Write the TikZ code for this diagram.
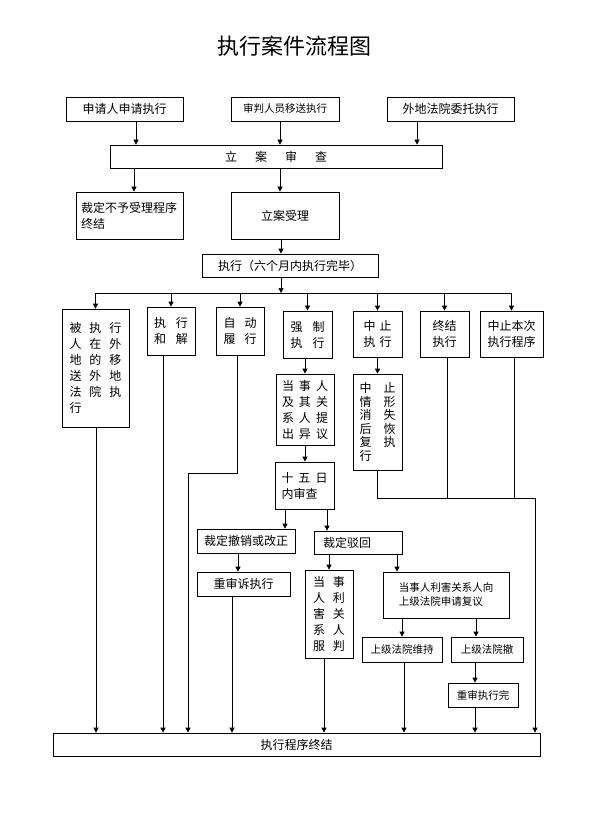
\documentclass[tikz,border=0pt]{standalone}
\usepackage{fontspec}
\setmainfont{Noto Sans CJK SC}
\usepackage{tikz}
\usetikzlibrary{arrows.meta}
\definecolor{ink}{HTML}{000000}
\newcommand{\cgap}[1][6pt]{\hspace{#1}}
\tikzset{
  box/.style={draw=ink,line width=0.7pt,fill=white,inner sep=2pt,align=center,text=ink,font=\fontsize{12}{16}\selectfont},
  tight/.style={font=\fontsize{10.5}{14}\selectfont},
  arr/.style={-{Triangle[length=5pt,width=5pt]},line width=0.7pt,color=ink},
  conn/.style={line width=0.7pt,color=ink},
}

\begin{document}
\begin{tikzpicture}[x=1pt,y=-1pt]
  \useasboundingbox (0,0) rectangle (595,834);
  \node[font=\fontsize{22}{26}\selectfont] (title) at (294,46) {执行案件流程图};

  % intake
  \node[box,minimum width=117,minimum height=24] (apply) at (124.5,109) {申请人申请执行};
  \node[box,tight,minimum width=108,minimum height=24] (transfer) at (285,109) {审判人员移送执行};
  \node[box,minimum width=127,minimum height=24] (entrust) at (450.5,109) {外地法院委托执行};
  \node[box,minimum width=332,minimum height=23] (review) at (276,156.5) {立\cgap[18pt]案\cgap[18pt]审\cgap[18pt]查};
  \node[box,minimum width=107,minimum height=47,text width=97,align=left] (reject) at (129.5,215.5) {裁定不予受理程序\\终结};
  \node[box,minimum width=108,minimum height=47] (accept) at (285,215.5) {立案受理};
  \node[box,minimum width=176,minimum height=23] (exec) at (290,265.5) {执行（六个月内执行完毕）};
  \coordinate (bus) at (281,293);

  % branches
  \node[box,minimum width=67,minimum height=118,align=left] (remote) at (95.5,368) {被\cgap[8pt]执\cgap[8pt]行\\人\cgap[8pt]在\cgap[8pt]外\\地\cgap[8pt]的\cgap[8pt]移\\送\cgap[8pt]外\cgap[8pt]地\\法\cgap[8pt]院\cgap[8pt]执\\行};
  \node[box,minimum width=48,minimum height=48] (settle) at (171,331) {执\cgap[10pt]行\\和\cgap[10pt]解};
  \node[box,minimum width=48,minimum height=48] (self) at (240,331) {自\cgap[9pt]动\\履\cgap[9pt]行};
  \node[box,minimum width=49,minimum height=47] (force) at (307.5,334.5) {强\cgap[10pt]制\\执\cgap[10pt]行};
  \node[box,minimum width=49,minimum height=46] (suspend) at (377.5,334) {中\cgap[4pt]止\\执\cgap[4pt]行};
  \node[box,minimum width=49,minimum height=46] (endexec) at (444.5,334) {终结\\执行};
  \node[box,minimum width=63,minimum height=46] (pause) at (511.5,334) {中止本次\\执行程序};

  \node[box,minimum width=58,minimum height=71] (objection) at (305,409.5) {当\cgap[5pt]事\cgap[5pt]人\\及\cgap[5pt]其\cgap[5pt]关\\系\cgap[5pt]人\cgap[5pt]提\\出\cgap[5pt]异\cgap[5pt]议};
  \node[box,minimum width=49,minimum height=96,align=left,font=\fontsize{12}{13.5}\selectfont] (resume) at (377.5,422) {中\cgap[12pt]止\\情\cgap[12pt]形\\消\cgap[12pt]失\\后\cgap[12pt]恢\\复\cgap[12pt]执\\行};
  \node[box,minimum width=59,minimum height=47,align=left] (check) at (304.5,485.5) {十\cgap[5pt]五\cgap[5pt]日\\内审查};

  \node[box,minimum width=98,minimum height=24] (revoke) at (246,541) {裁定撤销或改正};
  \node[box,minimum width=88,minimum height=23,text width=70,align=left] (dismiss) at (358,542.5) {裁定驳回};
  \node[box,minimum width=93,minimum height=24] (retry) at (243.5,584) {重审诉执行};
  \node[box,minimum width=48,minimum height=88] (accepted) at (329,614) {当\cgap[8pt]事\\人\cgap[8pt]利\\害\cgap[8pt]关\\系\cgap[8pt]人\\服\cgap[8pt]判};
  \node[box,tight,minimum width=126,minimum height=46,align=left] (appeal) at (446,595) {当事人利害关系人向\\上级法院申请复议};
  \node[box,tight,minimum width=80,minimum height=25] (uphold) at (402,649.5) {上级法院维持};
  \node[box,tight,minimum width=72,minimum height=25] (quash) at (487,649.5) {上级法院撤};
  \node[box,tight,minimum width=70,minimum height=24] (retried) at (483,695) {重审执行完};
  \node[box,minimum width=487,minimum height=23] (final) at (296.5,744.5) {执行程序终结};

  % connectors
  \draw[arr] (apply.south -| 136,0) -- (review.north -| 136,0);
  \draw[arr] (transfer.south -| 280,0) -- (review.north -| 280,0);
  \draw[arr] (entrust.south -| 417,0) -- (review.north -| 417,0);
  \draw[arr] (review.south -| 134,0) -- (reject.north -| 134,0);
  \draw[arr] (review.south -| 280,0) -- (accept.north -| 280,0);
  \draw[arr] (accept.south -| 281,0) -- (exec.north -| 281,0);
  \draw[arr] (exec.south -| bus) -- (bus);
  \draw[conn] (remote.north |- bus) -- (pause.north |- bus);
  \foreach \n in {remote,settle,self,force,suspend,endexec,pause}
    \draw[arr] (\n.north |- bus) -- (\n.north);

  \draw[arr] (force.south -| objection.north) -- (objection.north);
  \draw[arr] (objection.south) -- (check.north -| objection.south);
  \draw[arr] (suspend.south) -- (resume.north);
  \draw[arr] (check.south -| 285,0) -- (revoke.north -| 285,0);
  \draw[arr] (check.south -| 327,0) -- (dismiss.north -| 327,0);
  \draw[arr] (revoke.south -| 238,0) -- (retry.north -| 238,0);
  \draw[arr] (dismiss.south -| accepted.north) -- (accepted.north);
  \draw[arr] (dismiss.south -| 397,0) -- (appeal.north -| 397,0);
  \draw[arr] (appeal.south -| uphold.north) -- (uphold.north);
  \draw[arr] (appeal.south -| 476,0) -- (quash.north -| 476,0);
  \draw[arr] (quash.south -| 475,0) -- (retried.north -| 475,0);

  % into the last box
  \foreach \n/\x in {remote/96,settle/163,retry/232,accepted/324,uphold/404,retried/475}
    \draw[arr] (\n.south -| \x,0) -- (final.north -| \x,0);
  \coordinate (selfbend) at (188,473);
  \draw[arr] (self.south -| 237,0) |- (selfbend) -- (final.north -| selfbend);
  \coordinate (join) at (535,498);
  \draw[arr] (resume.south) |- (join) -- (final.north -| join);
  \draw[conn] (endexec.south -| 447,0) -- (join -| 447,0);
  \draw[conn] (pause.south -| 514,0) -- (join -| 514,0);
\end{tikzpicture}
\end{document}
